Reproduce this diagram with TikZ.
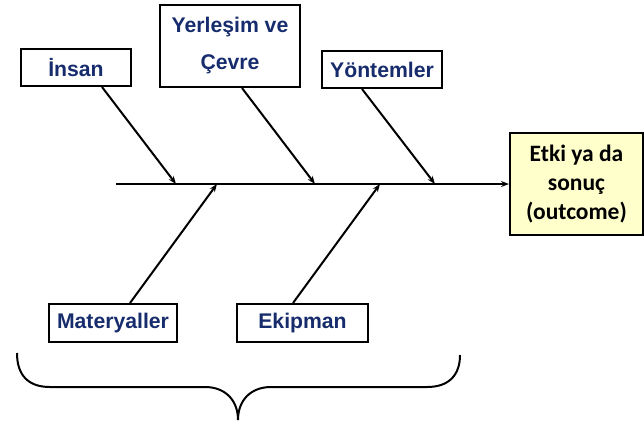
\documentclass[tikz,border=0pt]{standalone}
\usepackage{fontspec}
\setmainfont{Liberation Sans}
\newfontfamily\calibrifont{Carlito}
\usetikzlibrary{arrows.meta}
\definecolor{causeblue}{RGB}{22,44,108}
\definecolor{effectyellow}{RGB}{255,255,204}

\begin{document}
\begin{tikzpicture}[x=1pt,y=-1pt]
    \useasboundingbox (0,0) rectangle (644,421);

    \begin{scope}[every node/.style={draw,line width=2pt,inner sep=0pt,align=center,text=causeblue,font=\bfseries\fontsize{21.2}{37}\selectfont}]
        \node[minimum width=110pt,minimum height=37pt] (insan) at (76,67.5) {İnsan};
        \node[minimum width=140pt,minimum height=82pt] (yerlesim) at (230,46) {Yerleşim ve\\Çevre};
        \node[minimum width=120pt,minimum height=37pt] (yontem) at (382,69.5) {Yöntemler};
        \node[minimum width=128pt,minimum height=38pt] (materyal) at (113,323) {Materyaller};
        \node[minimum width=131pt,minimum height=38pt] (ekipman) at (302.5,323) {Ekipman};
    \end{scope}

    \node[draw,line width=2pt,fill=effectyellow,inner sep=0pt,align=center,minimum width=133pt,minimum height=102pt,font=\calibrifont\bfseries\fontsize{23.5}{29}\selectfont] (outcome) at (576.5,184) {Etki ya da\\sonuç\\(outcome)};

    \coordinate (tail) at (116,184);
    \coordinate (t1) at (176,184);
    \coordinate (t2) at (315,184);
    \coordinate (t3) at (435,184);
    \coordinate (b1) at (217,184);
    \coordinate (b2) at (380,184);

    \begin{scope}[line width=2pt,>={Stealth[length=8pt,width=6pt]}]
        \path [->] (tail) edge (outcome.west);
        \path [->] ([xshift=26pt]insan.south) edge (t1);
        \path [->] ([xshift=12pt]yerlesim.south) edge (t2);
        \path [->] ([xshift=-20pt]yontem.south) edge (t3);
        \path [->] ([xshift=17pt]materyal.north) edge (b1);
        \path [->] ([xshift=-9.5pt]ekipman.north) edge (b2);
    \end{scope}

    % brace under the causes
    \draw[line width=2pt] (17,353) .. controls (17,375) and (28,387) .. (50,387) -- (205,387)
        .. controls (225,387) and (238,400) .. (238,420)
        .. controls (238,400) and (251,387) .. (271,387) -- (427,387)
        .. controls (449,387) and (460,375) .. (460,355);
\end{tikzpicture}
\end{document}
